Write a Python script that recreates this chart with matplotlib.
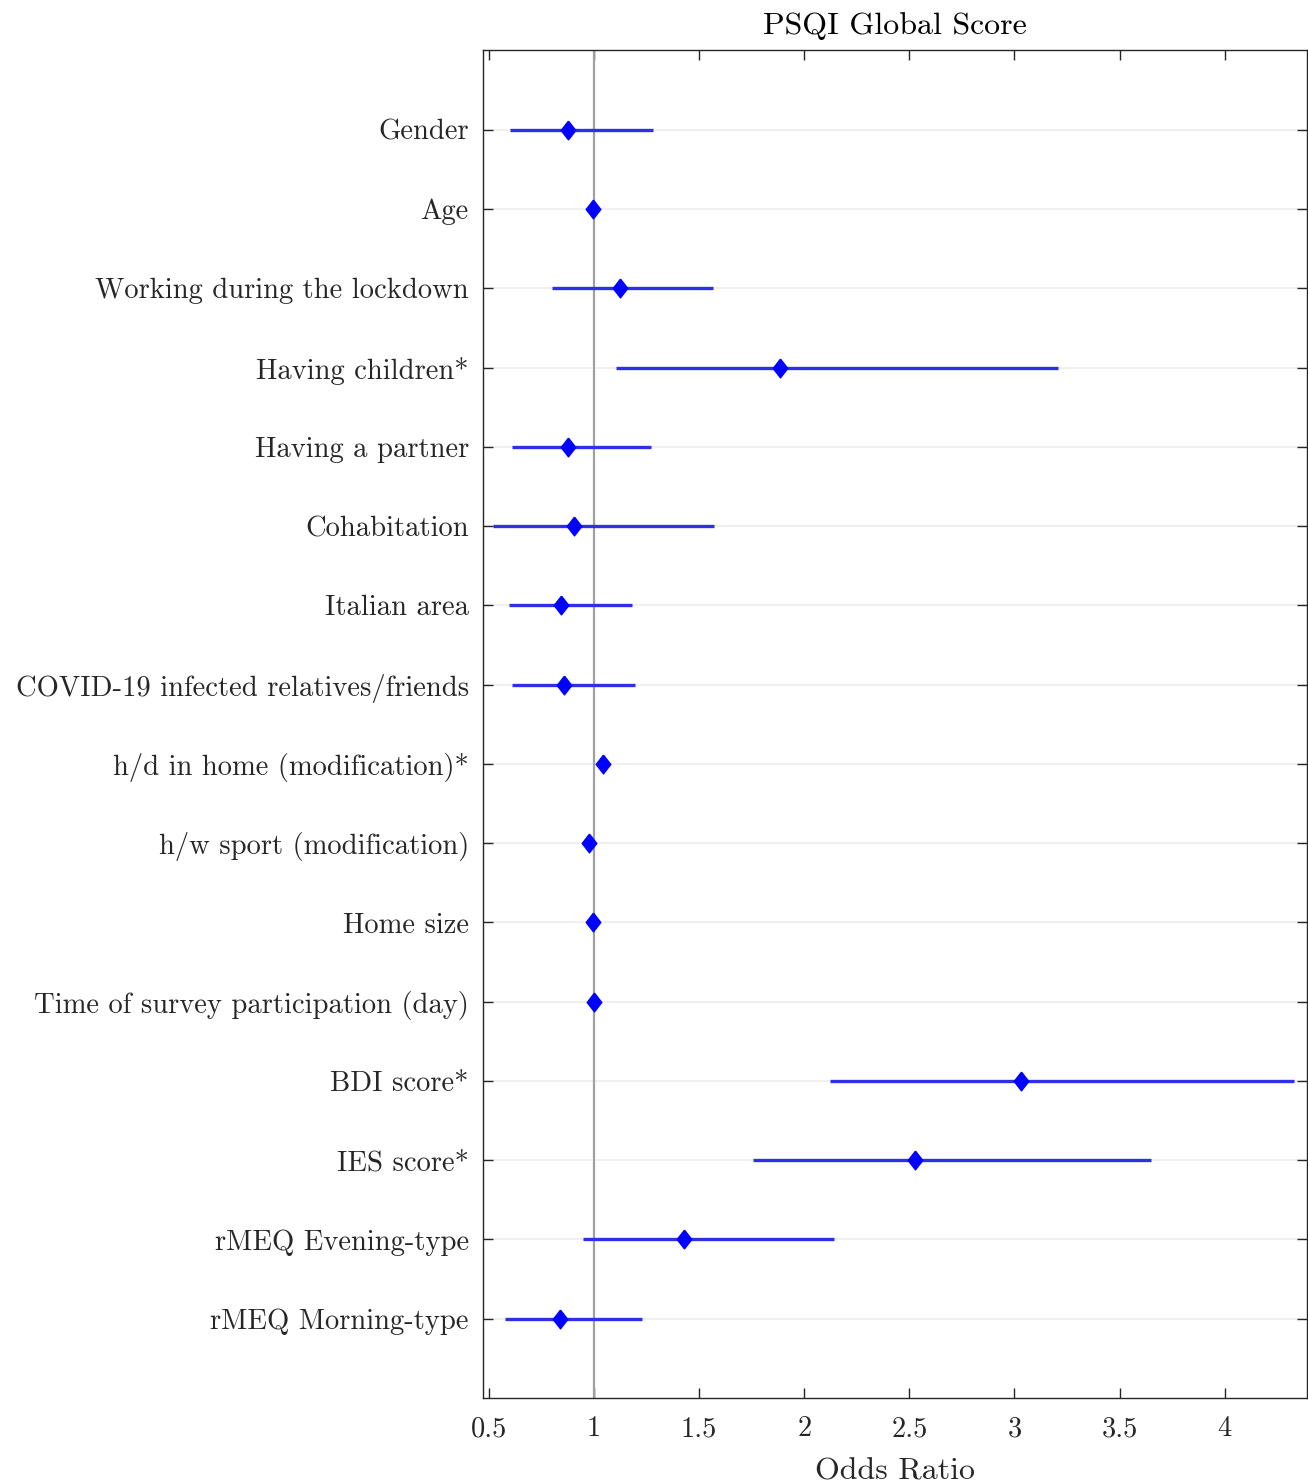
import matplotlib
matplotlib.use("Agg")
import matplotlib.pyplot as plt
import numpy as np

plt.rcParams['font.family'] = ['cmr10', 'DejaVu Serif']
plt.rcParams['axes.formatter.use_mathtext'] = True

# Predictors, top to bottom
labels = [
    "Gender",
    "Age",
    "Working during the lockdown",
    "Having children*",
    "Having a partner",
    "Cohabitation",
    "Italian area",
    "COVID-19 infected relatives/friends",
    "h/d in home (modification)*",
    "h/w sport (modification)",
    "Home size",
    "Time of survey participation (day)",
    "BDI score*",
    "IES score*",
    "rMEQ Evening-type",
    "rMEQ Morning-type",
]

# Odds ratios and 95% confidence limits
odds_ratio = [0.874, 0.994, 1.121, 1.886, 0.875, 0.904, 0.841, 0.855,
              1.042, 0.974, 0.994, 0.999, 3.032, 2.525, 1.427, 0.840]
ci_low = [0.599, 0.985, 0.800, 1.102, 0.610, 0.519, 0.595, 0.610,
          1.030, 0.965, 0.988, 0.995, 2.124, 1.755, 0.945, 0.574]
ci_high = [1.278, 1.004, 1.564, 3.207, 1.272, 1.572, 1.180, 1.196,
           1.055, 0.984, 1.000, 1.004, 4.331, 3.647, 2.142, 1.228]

xticks = [0.5, 1, 1.5, 2, 2.5, 3, 3.5, 4]
xtick_labels = ["0.5", "1", "1.5", "2", "2.5", "3", "3.5", "4"]

text_color = "#262626"

# diamond marker, a bit taller than wide
diamond = [(0, 1), (0.78, 0), (0, -1), (-0.78, 0), (0, 1)]

fig = plt.figure(figsize=(13.08, 14.84), dpi=100)
ax = fig.add_axes([0.369, 0.058, 0.630, 0.908])

n = len(labels)
ypos = np.arange(n, 0, -1)

ax.axvline(1, color="#a0a0a0", lw=1.6, zorder=1)
ax.hlines(ypos, ci_low, ci_high, color="#2f2fe6", lw=2.4, zorder=2)
ax.plot(odds_ratio, ypos, linestyle="none", marker=diamond, markersize=13.5,
        color="blue", markeredgecolor="blue", zorder=3)

ax.set_xlim(0.47, 4.39)
ax.set_ylim(0, n + 1)
ax.set_yticks(ypos)
ax.set_yticklabels(labels)
ax.set_xticks(xticks)
ax.set_xticklabels(xtick_labels)

ax.yaxis.grid(True, color="#ededed", lw=1.2)
ax.set_axisbelow(True)

ax.tick_params(axis="both", direction="in", top=True, right=True,
               colors=text_color, length=7, width=1.0)
ax.tick_params(axis="y", pad=10, labelsize=20.6)
ax.tick_params(axis="x", pad=13, labelsize=20.5)
for sp in ax.spines.values():
    sp.set_color("#262626")
    sp.set_linewidth(1.0)

ax.set_title("PSQI Global Score", fontsize=23, color="black", pad=12)
ax.set_xlabel("Odds Ratio", fontsize=23, color=text_color, labelpad=11)

fig.savefig("out.png", dpi=100)
